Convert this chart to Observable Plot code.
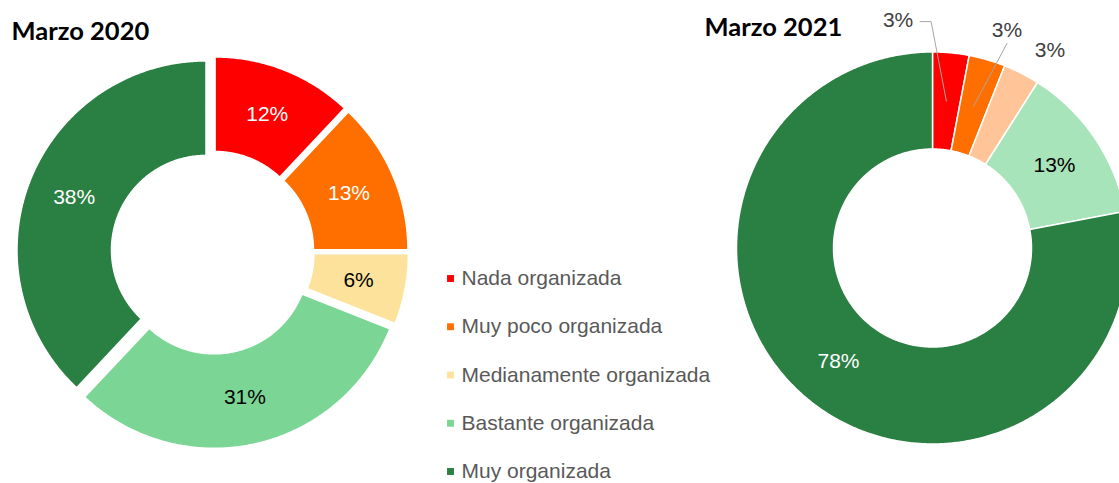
<!DOCTYPE html>
<html>
<head>
<meta charset="utf-8">
<script src="https://cdn.jsdelivr.net/npm/d3@7"></script>
<script src="https://cdn.jsdelivr.net/npm/@observablehq/plot@0.6"></script>
<style>
  html, body { margin: 0; padding: 0; background: #fff; }
  #chart svg { display: block; }
</style>
</head>
<body>
<div id="chart"></div>
<script>
// ---- data ----
const categories = ["Nada organizada", "Muy poco organizada", "Medianamente organizada", "Bastante organizada", "Muy organizada"];
const titles = ["Marzo 2020", "Marzo 2021"];
const values2020 = [12, 13, 6, 31, 38];
const values2021 = [3, 3, 3, 13, 78];
const colors2020 = ["#FF0000", "#FF6F00", "#FCE29B", "#7BD695", "#2A7F43"];
const colors2021 = ["#FF0000", "#FF6F00", "#FFC599", "#A8E4B9", "#2A7F43"];
const labelColors2020 = ["#FFFFFF", "#FFFFFF", "#000000", "#000000", "#FFFFFF"];
const labelColors2021 = ["#404040", "#404040", "#404040", "#000000", "#FFFFFF"];
const legendColors = colors2020;

// ---- layout ----
const W = 1119, H = 483;
const donuts = [
  {key: "2020", values: values2020, colors: colors2020, labelColors: labelColors2020,
   cx: 212, cy: 252, R: 189, r: 94.5, explode: 7,
   outside: [false, false, false, false, false]},
  {key: "2021", values: values2021, colors: colors2021, labelColors: labelColors2021,
   cx: 932, cy: 247.5, R: 196, r: 99, explode: 0,
   outside: [true, true, true, false, false]}
];
// outside-label angle nudges (degrees) and radius for the small 2021 slices
const outsideNudge = [-14.0, 2.7, 3.7];
const outsideRadius = 230;
const leaderKinds = ["side", "bottom", "none"];

const slicePts = [];
const labels = [];
const leaders = [];
donuts.forEach(d => {
  const arcs = d3.pie().sort(null)(d.values);
  arcs.forEach((a, i) => {
    const mid = (a.startAngle + a.endAngle) / 2;
    const ox = d.explode * Math.sin(mid), oy = -d.explode * Math.cos(mid);
    const n = Math.max(4, Math.ceil((a.endAngle - a.startAngle) / (Math.PI / 360)));
    const key = d.key + "-" + i;
    for (let k = 0; k <= n; k++) {
      const t = a.startAngle + (a.endAngle - a.startAngle) * k / n;
      slicePts.push({key, color: d.colors[i], x: d.cx + ox + d.R * Math.sin(t), y: d.cy + oy - d.R * Math.cos(t)});
    }
    for (let k = n; k >= 0; k--) {
      const t = a.startAngle + (a.endAngle - a.startAngle) * k / n;
      slicePts.push({key, color: d.colors[i], x: d.cx + ox + d.r * Math.sin(t), y: d.cy + oy - d.r * Math.cos(t)});
    }
    const rm = (d.R + d.r) / 2 + d.explode;
    const px = d.cx + rm * Math.sin(mid), py = d.cy - rm * Math.cos(mid);
    const text = d.values[i] + "%";
    if (d.outside[i]) {
      const ang = mid + outsideNudge[i] * Math.PI / 180;
      const lx = d.cx + outsideRadius * Math.sin(ang), ly = d.cy - outsideRadius * Math.cos(ang);
      labels.push({x: lx, y: ly, text, color: d.labelColors[i]});
      const kind = leaderKinds[i];
      if (kind === "side") {
        leaders.push({id: key, x: lx + 22, y: ly + 1});
        leaders.push({id: key, x: lx + 33, y: ly + 1});
        leaders.push({id: key, x: px, y: py});
      } else if (kind === "bottom") {
        leaders.push({id: key, x: lx, y: ly + 13});
        leaders.push({id: key, x: px, y: py});
      }
    } else {
      labels.push({x: px, y: py, text, color: d.labelColors[i]});
    }
  });
});

const legend = categories.map((c, i) => ({name: c, color: legendColors[i], y: 278 + i * 48.25}));
const titleRows = [
  {text: titles[0], x: 11, y: 31},
  {text: titles[1], x: 704, y: 27}
];

const chart = Plot.plot({
  width: W, height: H,
  margin: 0,
  x: {domain: [0, W], range: [0, W], axis: null},
  y: {domain: [0, H], range: [0, H], axis: null},
  style: {fontFamily: "Liberation Sans, Arial, sans-serif", background: "#fff"},
  marks: [
    Plot.line(slicePts, {x: "x", y: "y", z: "key", fill: "color", stroke: "white", strokeWidth: 1.5, curve: "linear-closed"}),
    Plot.line(leaders, {x: "x", y: "y", z: "id", stroke: "#A6A6A6", strokeWidth: 1}),
    Plot.text(labels, {x: "x", y: "y", text: "text", fill: "color", fontSize: 21}),
    Plot.text(titleRows, {x: "x", y: "y", text: "text", textAnchor: "start", fontSize: 25.5, fontWeight: "bold", fontFamily: "Lato", fill: "#000"}),
    Plot.dot(legend, {x: () => 450, y: "y", symbol: "square", r: 3.9, fill: "color"}),
    Plot.text(legend, {x: () => 461, y: "y", text: "name", textAnchor: "start", fill: "#595959", fontSize: 21})
  ]
});
document.getElementById("chart").appendChild(chart);
</script>
</body>
</html>
